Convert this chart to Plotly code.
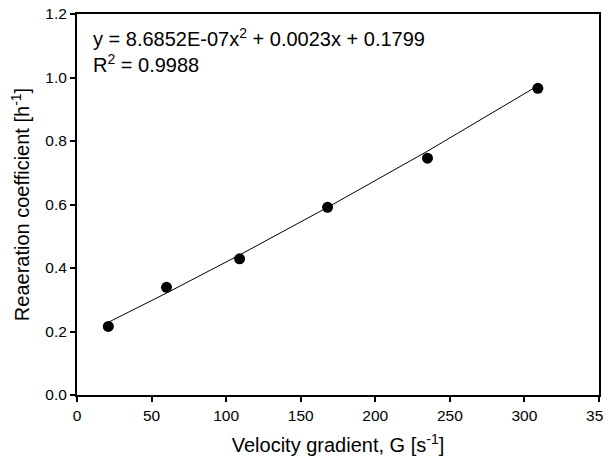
import plotly.graph_objects as go

# Measured data
velocity_gradient = [21, 60, 109, 168, 235, 309]
reaeration = [0.216, 0.339, 0.429, 0.591, 0.746, 0.966]

# Trend line points
fit_x = [21, 60, 109, 168, 235, 309]
fit_y = [0.229, 0.321, 0.441, 0.591, 0.768, 0.974]

x_ticks = [0, 50, 100, 150, 200, 250, 300, 350]
y_ticks = [0.0, 0.2, 0.4, 0.6, 0.8, 1.0, 1.2]
y_tick_text = ["0.0", "0.2", "0.4", "0.6", "0.8", "1.0", "1.2"]

equation_text = "y = 8.6852E-07x<sup>2</sup> + 0.0023x + 0.1799<br>R<sup>2</sup> = 0.9988"

font_family = "Liberation Sans, Arial, sans-serif"

fig = go.Figure()
fig.add_trace(go.Scatter(x=fit_x, y=fit_y, mode="lines",
                         line=dict(color="black", width=1), showlegend=False,
                         hoverinfo="skip"))
fig.add_trace(go.Scatter(x=velocity_gradient, y=reaeration, mode="markers",
                         marker=dict(color="black", size=11), showlegend=False))

axis_common = dict(showline=True, linecolor="black", linewidth=2, mirror=True,
                   ticks="outside", ticklen=5, tickwidth=1.5, tickcolor="black",
                   showgrid=False, zeroline=False, automargin=False,
                   ticklabeloverflow="allow",
                   tickfont=dict(family=font_family, size=15.5, color="black"))

fig.update_xaxes(range=[0, 350], tickvals=x_ticks,
                 title=dict(text="Velocity gradient, G [s<sup>-1</sup>]",
                            font=dict(family=font_family, size=20, color="black"),
                            standoff=22),
                 **axis_common)
fig.update_yaxes(range=[0, 1.2], tickvals=y_ticks, ticktext=y_tick_text,
                 title=dict(text="Reaeration coefficient [h<sup>-1</sup>]",
                            font=dict(family=font_family, size=20, color="black"),
                            standoff=10),
                 **axis_common)

fig.add_annotation(x=0, y=1, xref="paper", yref="paper", xanchor="left", yanchor="top",
                   xshift=14, yshift=-9, text=equation_text, showarrow=False, align="left",
                   font=dict(family=font_family, size=20, color="black"))

# The page body has an 8px default margin, so the figure is sized and
# offset to keep the plot area where the reference has it.
fig.update_layout(width=603, height=448, margin=dict(l=69, r=12, t=6, b=61),
                  plot_bgcolor="white", paper_bgcolor="white")

fig.write_html("out.html")
